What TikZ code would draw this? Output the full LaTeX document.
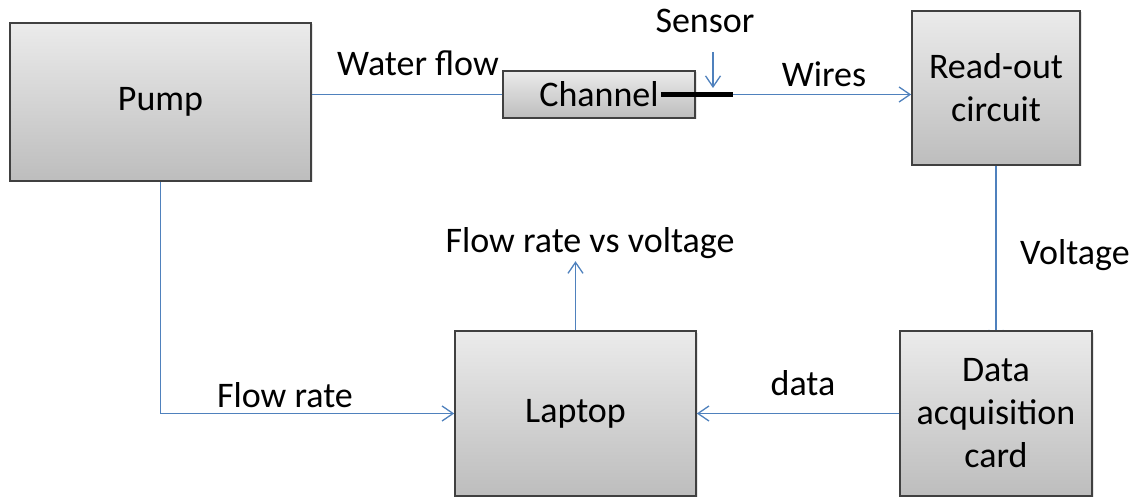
\documentclass[tikz,border=0pt]{standalone}
\usepackage{fontspec}
\setmainfont{Carlito}
\usetikzlibrary{positioning,arrows.meta,calc,shadows,backgrounds}
\definecolor{boxtop}{HTML}{EBEBEB}
\definecolor{boxbot}{HTML}{BDBDBD}
\definecolor{boxedge}{HTML}{404040}
\definecolor{linkblue}{HTML}{4F81BD}

\begin{document}
\begin{tikzpicture}[
    x=1pt, y=-1pt,
    >={Straight Barb[length=11pt,width=15pt]},
    block/.style={draw=boxedge, line width=1.6pt, top color=boxtop, bottom color=boxbot,
        inner sep=0pt, align=center, font=\fontsize{36}{43}\selectfont,
        drop shadow={shadow xshift=1.5pt, shadow yshift=-1.5pt, opacity=0.2}},
    lbl/.style={font=\fontsize{36}{43}\selectfont, inner sep=0pt, anchor=base},
    link/.style={draw=linkblue, line width=1.3pt},
    sensorbar/.style={draw=black, line width=5.5pt}
]
\useasboundingbox (0,0) rectangle (1138,497);

% The five blocks
\node[block, minimum width=301pt, minimum height=158pt] (pump) at (160.5,102) {Pump};
\node[block, minimum width=192pt, minimum height=47pt] (channel) at (599,94.5) {Channel};
\node[block, minimum width=168pt, minimum height=154pt] (readout) at (996,88) {Read-out\\circuit};
\node[block, minimum width=192pt, minimum height=165pt] (daq) at (996,413.5) {Data\\acquisition\\card};
\node[block, minimum width=241pt, minimum height=165pt] (laptop) at (575.5,413.5) {Laptop};

% Sensor strip sticking out of the channel
\coordinate (sensL) at ($(channel.east)+(-35,0)$);
\coordinate (sensR) at ($(channel.east)+(37,0)$);
\coordinate (sensTip) at (713,88);
\coordinate (sensTail) at (713,52);
\coordinate (result) at ($(laptop.north)+(0,-69)$);
\coordinate (voltTip) at ($(daq.north)+(0,12)$);

% Labels
\node[lbl] (lwater) at (418,76) {Water flow};
\node[lbl] (lsensor) at (705,33) {Sensor};
\node[lbl] (lwires) at (824,87) {Wires};
\node[lbl] (lvolt) at (1075,265) {Voltage};
\node[lbl] (ldata) at (803,395) {data};
\node[lbl] (lrate) at (285,407) {Flow rate};
\node[lbl] (lresult) at (590,253) {Flow rate vs voltage};

% Connectors
\draw[link] (pump.east |- channel.west) -- (channel.west);
\draw[link, ->] (sensR) -- (readout.west |- sensR);
\draw[link, ->] (sensTail) -- (sensTip);
\begin{scope}[on background layer]
  % tip runs under the card, as in the original
  \draw[link, ->] (readout.south) -- (voltTip);
\end{scope}
\draw[link, ->] (daq.west) -- (laptop.east);
\draw[link, ->] (pump.south) |- (laptop.west);
\draw[link, ->] (laptop.north) -- (result);
\draw[sensorbar] (sensL) -- (sensR);
\end{tikzpicture}
\end{document}
